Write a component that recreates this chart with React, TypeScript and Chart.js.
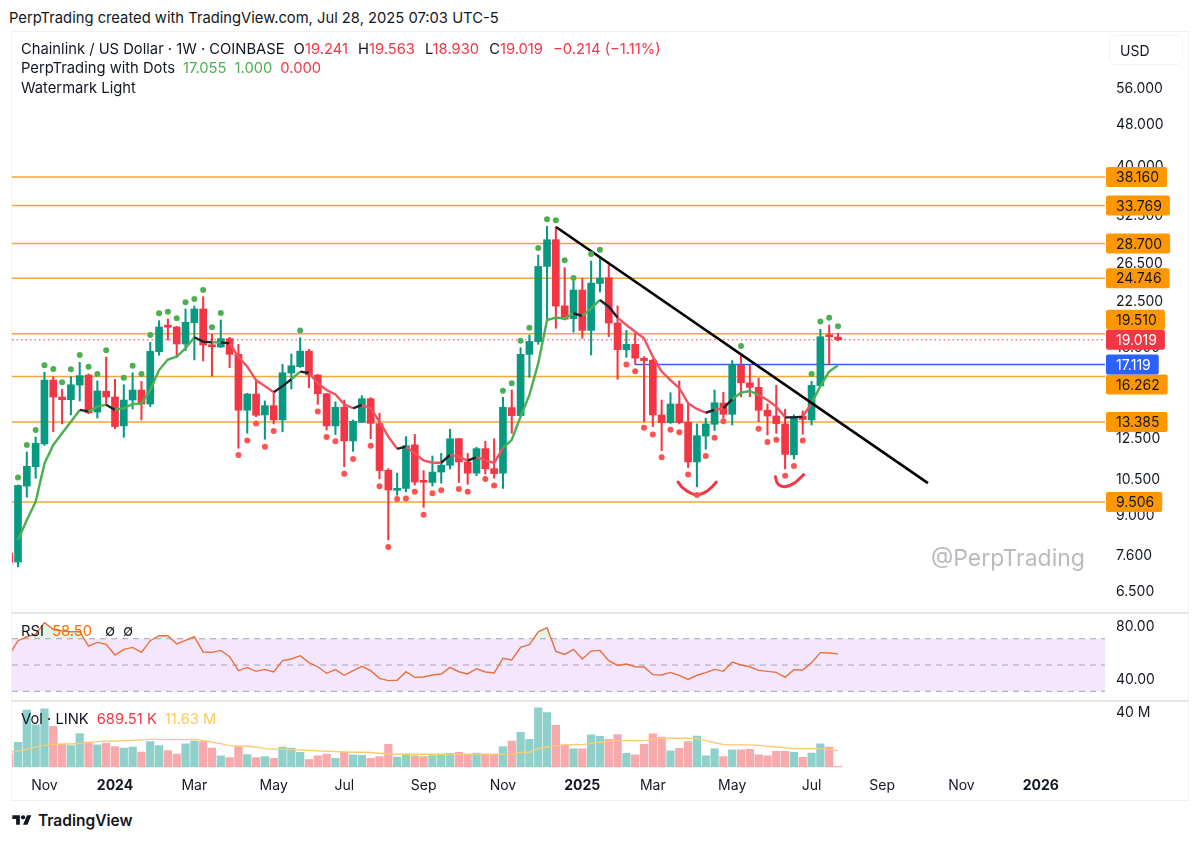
import { useEffect, useRef } from "react";
import { Chart, registerables } from "chart.js";

Chart.register(...registerables);
Chart.defaults.font.family = "Inter, sans-serif";
Chart.defaults.font.size = 14;
Chart.defaults.color = "#131722";

const UP = "#089981";
const DOWN = "#F23645";

// weekly candles, first entry is the bar cut off by the left edge
const opens = [
  7.64, 7.35, 10.17, 11.05, 12.18, 16.01, 14.89, 14.72, 15.67, 16.36,
  13.96, 15.26, 14.89, 13.16, 14.70, 15.34, 14.45, 18.07, 20.15, 20.09,
  18.68, 20.47, 21.70, 18.62, 18.44, 19.11, 17.87, 14.07, 15.08, 13.79,
  14.35, 13.50, 16.50, 16.95, 18.12, 16.36, 15.10, 13.16, 14.25, 12.34,
  13.37, 14.78, 13.29, 10.89, 9.99, 10.07, 12.13, 10.39, 10.33, 10.80,
  11.12, 12.46, 11.28, 10.75, 11.94, 10.96, 10.75, 14.23, 13.75, 17.87,
  18.87, 26.03, 29.18, 21.99, 20.82, 23.53, 19.80, 24.20, 24.80, 20.43,
  18.23, 18.65, 17.58, 17.43, 13.79, 13.34, 14.45, 13.37, 11.28, 12.60,
  13.25, 14.51, 13.83, 17.06, 15.82, 15.52, 14.07, 13.73, 13.27, 11.63,
  13.71, 13.50, 15.62, 19.35, 19.241,
];
const highs = [
  7.75, 10.22, 11.77, 12.55, 16.55, 16.24, 15.39, 16.24, 17.27, 16.43,
  15.95, 17.67, 16.06, 15.69, 16.52, 15.92, 18.81, 20.64, 20.79, 20.15,
  21.70, 21.97, 22.87, 19.47, 20.70, 19.22, 18.65, 15.13, 16.06, 14.64,
  15.13, 17.12, 17.90, 19.19, 18.26, 16.40, 15.13, 14.58, 14.70, 13.50,
  14.97, 14.85, 13.89, 10.96, 10.75, 12.57, 12.69, 10.87, 11.57, 11.70,
  12.97, 12.48, 11.70, 12.01, 12.32, 12.45, 14.87, 15.34, 18.38, 19.41,
  27.33, 30.90, 30.85, 25.89, 24.42, 24.74, 26.64, 27.13, 26.19, 21.99,
  19.80, 19.55, 17.69, 17.50, 14.70, 15.17, 15.95, 14.45, 13.27, 13.60,
  15.34, 15.19, 17.40, 17.82, 17.06, 16.15, 14.45, 15.65, 14.13, 13.79,
  14.03, 15.92, 19.89, 20.26, 19.563,
];
const lows = [
  7.2, 7.20, 9.70, 10.52, 12.11, 12.83, 13.27, 13.79, 14.64, 13.86,
  13.61, 14.39, 13.0, 12.53, 14.15, 13.50, 14.29, 17.80, 19.0, 17.62,
  18.15, 17.45, 17.37, 16.29, 18.40, 16.88, 11.96, 12.75, 13.69, 12.43,
  13.27, 12.83, 15.41, 16.90, 15.49, 14.43, 12.93, 12.68, 11.05, 11.80,
  13.35, 12.46, 10.49, 8.08, 9.78, 9.93, 10.22, 9.29, 10.17, 10.30,
  10.94, 10.33, 10.25, 10.63, 10.71, 10.52, 10.07, 12.75, 13.70, 16.20,
  18.65, 20.64, 19.98, 20.70, 19.64, 19.14, 17.82, 23.33, 19.28, 16.06,
  17.65, 17.12, 13.40, 13.12, 11.84, 13.30, 13.27, 11.01, 10.14, 11.91,
  12.90, 13.60, 13.21, 14.91, 14.91, 13.40, 12.66, 12.75, 10.95, 11.42,
  12.70, 13.21, 15.56, 17.12, 18.93,
];
const closes = [
  7.35, 10.20, 11.07, 12.22, 16.01, 14.89, 14.72, 15.69, 16.31, 13.92,
  15.28, 14.89, 13.12, 14.70, 15.34, 14.45, 18.10, 20.09, 20.07, 18.68,
  20.50, 21.70, 18.60, 18.46, 19.11, 17.87, 14.07, 15.08, 13.77, 14.35,
  13.50, 16.52, 17.02, 18.12, 16.36, 15.10, 13.16, 14.25, 12.34, 13.42,
  14.78, 13.30, 10.87, 10.00, 10.07, 12.09, 10.35, 10.34, 10.80, 11.12,
  12.45, 11.28, 10.75, 11.94, 10.95, 10.73, 14.25, 13.75, 17.87, 18.88,
  26.03, 29.18, 21.97, 20.77, 23.53, 19.80, 24.24, 24.76, 20.43, 18.23,
  18.65, 17.58, 17.40, 13.79, 13.34, 14.45, 13.34, 11.28, 12.62, 13.27,
  14.53, 13.83, 17.12, 15.82, 15.52, 14.07, 13.73, 13.29, 11.65, 13.71,
  13.52, 15.65, 19.27, 19.27, 19.019,
];

// PerpTrading line, starts on the second candle
const trendValues = [
  8.08, 8.80, 9.51, 11.21, 12.13, 12.75, 13.40, 14.09, 14.0, 14.29,
  14.41, 14.09, 14.19, 14.45, 14.47, 15.34, 16.71, 17.48, 17.69, 18.34,
  19.23, 18.87, 18.81, 18.81, 18.73, 17.69, 16.95, 16.01, 15.60, 15.19,
  15.60, 16.06, 16.60, 16.50, 15.79, 15.34, 15.06, 14.43, 14.19, 14.39,
  14.19, 13.40, 12.57, 11.93, 12.04, 11.70, 11.35, 11.24, 11.24, 11.62,
  11.54, 11.34, 11.51, 11.37, 11.23, 11.96, 12.40, 13.69, 15.02, 17.19,
  20.70, 20.91, 20.86, 21.30, 21.06, 21.76, 22.55, 21.91, 20.91, 20.26,
  19.69, 19.14, 17.69, 16.60, 16.01, 15.46, 14.50, 14.15, 13.92, 14.09,
  14.19, 14.75, 15.17, 15.28, 15.02, 14.70, 14.29, 13.65, 13.65, 13.69,
  14.50, 15.60, 16.60, 17.055,
];
const trendStates = (
  "ggggggg" + "k" + "gg" + "k" + "ggggggggg" + "kk" + "g" + "k" + "rrrrr" + "kk" + "g" + "k" +
  "rrrrr" + "k" + "rrrr" + "k" + "rrrr" + "k" + "rr" + "k" + "rrr" + "gggggggg" + "k" + "gg" +
  "kk" + "rrrrrrrrrr" + "k" + "r" + "k" + "ggg" + "rrr" + "kk" + "r" + "gggg"
).split("");
const trendColors: Record<string, string> = { g: "#4CAF50", r: "#F0525F", k: "#1E222D" };

// [week index, price]
const greenDots: [number, number][] = [
  [0, 10.55], [1, 12.13], [2, 12.93], [3, 17.06], [4, 16.79], [5, 15.86], [6, 16.77], [7, 17.82],
  [8, 16.95], [9, 16.43], [10, 18.18], [12, 16.17], [13, 17.02], [14, 16.43], [15, 19.41],
  [16, 21.30], [17, 21.45], [18, 20.86], [19, 22.33], [20, 22.65], [21, 23.53], [22, 20.06],
  [23, 21.33], [32, 19.80], [55, 15.29], [56, 15.80], [57, 18.95], [58, 20.03], [59, 28.17],
  [60, 31.85], [61, 31.72], [62, 26.72], [63, 24.77], [65, 27.45], [66, 27.96], [82, 18.52],
  [90, 16.43], [91, 20.56], [92, 20.91], [93, 20.15],
];
const redDots: [number, number][] = [
  [25, 11.62], [26, 12.36], [27, 13.30], [28, 12.04], [29, 12.88], [34, 14.0], [35, 12.55],
  [36, 12.32], [37, 10.72], [38, 11.42], [40, 12.09], [41, 10.17], [42, 7.84], [43, 9.63],
  [44, 9.65], [45, 9.93], [46, 9.0], [47, 9.87], [48, 9.99], [50, 10.05], [51, 9.93],
  [53, 10.48], [54, 10.20], [69, 17.12], [70, 16.62], [71, 13.05], [72, 12.69], [73, 11.51],
  [74, 12.95], [75, 12.81], [76, 10.69], [77, 9.79], [78, 11.57], [79, 12.51], [80, 13.42],
  [84, 13.0], [85, 12.28], [86, 12.40], [87, 10.63], [88, 11.09], [89, 12.36],
];

// hand drawn smiles under the two lows
const smileLeft: [number, number][] = [
  [74.86, 10.35], [75.4, 10.09], [76.2, 9.89], [77, 9.79], [77.9, 9.90], [78.6, 10.10], [79.2, 10.35],
];
const smileRight: [number, number][] = [
  [85.9, 10.59], [86.1, 10.32], [86.5, 10.18], [87.1, 10.15], [88, 10.29], [88.6, 10.49], [89.1, 10.68],
];

const orangeLevels = [38.16, 33.769, 28.7, 24.746, 19.51, 16.262, 13.385, 9.506];
const lastPrice = 19.019;
const bluePrice = 17.119;
const blueStart = 70;
const falling: [number, number][] = [[61.02, 30.81], [103.2, 10.3]];

const priceTicks = [56, 48, 40, 32.5, 26.5, 22.5, 18.5, 15.5, 12.5, 10.5, 9, 7.6, 6.5];

const rsiValues = [
  57.6, 68.5, 71.5, 73.5, 82.2, 77.1, 76.1, 75.3, 75.3, 64.4,
  67.2, 65.7, 57.6, 61.9, 63.4, 59.6, 68.5, 72.3, 72.3, 66.0,
  68.7, 71.5, 59.9, 59.6, 61.1, 56.3, 45.7, 48.2, 45.2, 46.7,
  44.7, 53.3, 54.6, 57.1, 51.8, 48.7, 43.7, 46.5, 42.2, 45.7,
  49.0, 45.7, 39.9, 38.1, 38.4, 44.9, 40.6, 40.9, 42.4, 43.2,
  48.2, 44.9, 43.2, 47.2, 44.7, 43.9, 55.1, 53.8, 63.4, 65.4,
  75.3, 78.4, 60.4, 58.1, 61.9, 54.6, 60.6, 61.1, 53.3, 49.7,
  50.8, 48.7, 48.5, 42.7, 42.4, 44.4, 42.2, 39.1, 42.2, 44.2,
  46.7, 45.2, 52.3, 50.0, 48.7, 45.9, 45.2, 44.4, 40.6, 46.5,
  46.2, 51.8, 59.4, 59.1, 58.5,
];
const rsiLevels = [70, 50, 30];

// millions
const volumes = [
  9.6, 18, 41.2, 30.5, 42, 29.5, 16.5, 15.6, 24.2, 18.2,
  16.1, 17.3, 14.9, 13.9, 14.6, 11, 18.5, 15.6, 12, 9.6,
  16.8, 18.9, 18.5, 13.9, 8.2, 7, 14.9, 9.1, 7, 7.7,
  6.5, 14.6, 13.9, 10.8, 5.5, 8.2, 9.6, 6.5, 11, 8.9,
  8.6, 6.5, 7.7, 16.5, 7.4, 9.6, 8.2, 7.7, 8.4, 9.4,
  10.1, 10.8, 9.4, 10.3, 9.4, 8.6, 14.9, 18.9, 25.2, 20.1,
  42.7, 39.3, 30.2, 16.1, 13.2, 13.2, 23.3, 22.3, 20.1, 23.5,
  10.1, 8.9, 16.5, 24, 21.8, 11.8, 13.7, 18.5, 22.5, 8.2,
  13.2, 7.7, 12.5, 12.5, 12.9, 8.9, 8.2, 11.5, 11.5, 10.8,
  7.2, 10.3, 16.8, 14.6, 0.69,
];
const volumeAverage = [
  10.6, 11.8, 12.9, 14.6, 15.8, 16.5, 16.8, 16.8, 17.3, 17.7,
  18.5, 18.7, 18.9, 19.2, 19.4, 19.7, 20.1, 20.1, 19.9, 19.9,
  19.9, 20.1, 19.4, 18, 17, 15.6, 15.3, 15.1, 14.6, 13.4,
  13.2, 12.9, 12.7, 12.5, 12.2, 11.8, 11.5, 11.3, 11, 10.8,
  10.8, 10.6, 10.1, 9.6, 9.4, 9.4, 9.4, 9.4, 9.4, 9.4,
  9.4, 9.4, 9.4, 9.4, 9.4, 9.4, 9.4, 9.6, 10.6, 10.8,
  13.4, 14.6, 15.6, 16.1, 16.3, 16.3, 17.3, 18, 18.7, 19.2,
  19.2, 19.2, 19.2, 19.9, 20.9, 20.9, 20.9, 20.9, 20.6, 19.2,
  17.7, 16.5, 16.1, 16.1, 16.1, 15.8, 15.1, 14.6, 14.1, 13.4,
  13.4, 13.4, 13.4, 12.9, 12,
];

const monthTicks = [3, 11, 20, 29, 37, 46, 55, 64, 72, 81, 90, 98, 107, 116];
const monthLabels = ["Nov", "2024", "Mar", "May", "Jul", "Sep", "Nov", "2025", "Mar", "May", "Jul", "Sep", "Nov", "2026"];

const xMin = -0.6805;
const xMax = 123.28;

const weeks = opens.map((_, i) => i - 1);
const isUp = (i: number) => closes[i] >= opens[i];
const pairs = (list: [number, number][]) => list.map(([x, y]) => ({ x, y }));
const flat = (y: number, from = xMin) => [{ x: from, y }, { x: xMax, y }];
const series = (values: number[], first: number) => values.map((y, i) => ({ x: i + first, y }));

const xHidden = {
  type: "linear",
  display: false,
  offset: false,
  bounds: "data",
  min: xMin,
  max: xMax,
  grid: { display: false, offset: false },
};

const rightAxis = (extra: any) => ({
  position: "right",
  bounds: "data",
  beginAtZero: false,
  grid: { display: false, drawTicks: false },
  border: { display: false },
  afterFit: (s: any) => {
    s.width = 83;
    // labels may hang over the pane edge like in the terminal
    s.paddingTop = 0;
    s.paddingBottom = 0;
  },
  ...extra,
  ticks: { padding: 11, autoSkip: false, color: "#131722", labelOffset: 1.3, ...extra.ticks },
});

const baseOptions = {
  animation: false,
  responsive: false,
  events: [],
  layout: { autoPadding: false, padding: 0 },
  plugins: { legend: { display: false }, tooltip: { enabled: false } },
};

const priceTags = {
  id: "priceTags",
  afterDraw(chart: any) {
    const s = chart.scales.y;
    const ctx = chart.ctx;
    const left = s.left + 1;
    const h = 20;
    const pinned = [lastPrice, bluePrice].map((p) => s.getPixelForValue(p));
    const tag = (price: number, y: number, bg: string, fg: string) => {
      const label = price.toFixed(3);
      ctx.fillStyle = bg;
      ctx.beginPath();
      ctx.roundRect(left, y - h / 2, ctx.measureText(label).width + 18, h, 2);
      ctx.fill();
      ctx.fillStyle = fg;
      ctx.fillText(label, left + 10, y + 1);
    };
    ctx.save();
    ctx.font = "14px Inter, sans-serif";
    ctx.textBaseline = "middle";
    orangeLevels.forEach((p) => {
      let y = s.getPixelForValue(p);
      // tags slide away from the live price and the blue line tag
      pinned.forEach((q) => {
        if (Math.abs(y - q) < h) y = y < q ? q - h : q + h;
      });
      tag(p, y, "#FF9800", "#131722");
    });
    tag(bluePrice, pinned[1], "#2962FF", "#fff");
    tag(lastPrice, pinned[0], DOWN, "#fff");
    ctx.restore();
  },
};

function Row({ top, children }: { top: number; children: any }) {
  return (
    <div style={{ position: "absolute", left: 21, top, whiteSpace: "nowrap", lineHeight: "20px" }}>{children}</div>
  );
}

function Val({ c, ml = 8, children }: { c: string; ml?: number; children: any }) {
  return <span style={{ color: c, marginLeft: ml }}>{children}</span>;
}

export default function App() {
  const priceRef = useRef<HTMLCanvasElement>(null);
  const rsiRef = useRef<HTMLCanvasElement>(null);
  const volRef = useRef<HTMLCanvasElement>(null);

  useEffect(() => {
    if (!priceRef.current || !rsiRef.current || !volRef.current) return;

    const candleColors = weeks.map((_, i) => (isUp(i) ? UP : DOWN));
    const hline = (y: number, color: string, order: number, from?: number, dash?: number[], w = 1.5) => ({
      type: "line",
      data: flat(y, from),
      borderColor: color,
      borderWidth: w,
      borderDash: dash,
      pointRadius: 0,
      order,
    });
    const dots = (list: [number, number][], color: string) => ({
      type: "line",
      data: pairs(list),
      showLine: false,
      pointRadius: 3,
      pointBorderWidth: 0,
      pointBackgroundColor: color,
      order: 1,
    });
    const smile = (list: [number, number][]) => ({
      type: "line",
      data: pairs(list),
      borderColor: DOWN,
      borderWidth: 3,
      borderCapStyle: "round",
      tension: 0.4,
      pointRadius: 0,
      order: 1,
    });

    const price = new Chart(priceRef.current, {
      type: "bar",
      data: {
        datasets: [
          dots(greenDots, "#4CAF50"),
          dots(redDots, "#FF5252"),
          smile(smileLeft),
          smile(smileRight),
          {
            type: "line",
            data: pairs(falling),
            borderColor: "#000",
            borderWidth: 2.6,
            pointRadius: 0,
            order: 2,
          },
          {
            type: "line",
            data: series(trendValues, 0),
            borderWidth: 2.4,
            borderColor: "#4CAF50",
            pointRadius: 0,
            segment: { borderColor: (c: any) => trendColors[trendStates[c.p0DataIndex]] },
            order: 3,
          },
          {
            // candle bodies
            data: weeks.map((x, i) => ({ x, y: [opens[i], closes[i]] })),
            backgroundColor: candleColors,
            barThickness: 7,
            maxBarThickness: 7,
            minBarLength: 2,
            grouped: false,
            order: 4,
          },
          {
            // wicks
            data: weeks.map((x, i) => ({ x, y: [lows[i], highs[i]] })),
            backgroundColor: candleColors,
            barThickness: 1.4,
            maxBarThickness: 1.4,
            grouped: false,
            order: 5,
          },
          hline(lastPrice, DOWN, 6, undefined, [1.5, 3], 1),
          hline(bluePrice, "#2962FF", 6, blueStart),
          ...orangeLevels.map((p) => hline(p, "#F5A63A", 7)),
        ],
      },
      options: {
        ...baseOptions,
        scales: {
          x: xHidden,
          y: rightAxis({
            type: "logarithmic",
            min: 5.936,
            max: 70.65,
            afterBuildTicks: (s: any) => {
              s.ticks = priceTicks.map((value) => ({ value }));
            },
            ticks: { callback: (v: any) => Number(v).toFixed(3) },
          }),
        },
      },
      plugins: [priceTags],
    } as any);

    const rsi = new Chart(rsiRef.current, {
      type: "line",
      data: {
        datasets: [
          {
            data: series(rsiValues, -1),
            borderColor: "#E8703A",
            borderWidth: 1.4,
            pointRadius: 0,
            fill: { target: { value: 70 }, above: "rgba(76,175,80,0.15)", below: "rgba(0,0,0,0)" },
            order: 1,
          },
          ...rsiLevels.map((y) => ({
            data: flat(y),
            borderColor: "#A8A3B5",
            borderWidth: 1,
            borderDash: [6, 5],
            pointRadius: 0,
            order: 2,
          })),
          {
            data: flat(rsiLevels[0]),
            borderWidth: 0,
            pointRadius: 0,
            backgroundColor: "#F4E6FD",
            fill: { target: { value: rsiLevels[2] } },
            order: 3,
          },
        ],
      },
      options: {
        ...baseOptions,
        scales: {
          x: xHidden,
          y: rightAxis({
            type: "linear",
            min: 23.4,
            max: 88.8,
            afterBuildTicks: (s: any) => {
              s.ticks = [80, 40].map((value) => ({ value }));
            },
            ticks: { callback: (v: any) => Number(v).toFixed(2) },
          }),
        },
      },
    } as any);

    const vol = new Chart(volRef.current, {
      type: "bar",
      data: {
        datasets: [
          {
            type: "line",
            data: series(volumeAverage, -1),
            borderColor: "#FBCB72",
            borderWidth: 1.4,
            pointRadius: 0,
            order: 1,
          },
          {
            data: weeks.map((x, i) => ({ x, y: volumes[i] })),
            backgroundColor: weeks.map((_, i) => (isUp(i) ? "#8FD1CA" : "#F7A9AB")),
            barThickness: 7.6,
            maxBarThickness: 7.6,
            grouped: false,
            order: 2,
          },
        ],
      },
      options: {
        ...baseOptions,
        scales: {
          x: {
            ...xHidden,
            display: true,
            border: { display: false },
            afterFit: (s: any) => {
              s.height = 32.7;
              s.paddingLeft = 0;
              s.paddingRight = 0;
            },
            afterBuildTicks: (s: any) => {
              s.ticks = monthTicks.map((value) => ({ value }));
            },
            grid: { display: false, offset: false, drawTicks: false },
            ticks: {
              autoSkip: false,
              maxRotation: 0,
              padding: 10,
              color: "#131722",
              callback: (_: any, i: number) => monthLabels[i],
              font: (c: any) => ({ weight: /^\d/.test(monthLabels[c.index] ?? "") ? "bold" : "normal" }),
            },
          },
          y: rightAxis({
            type: "linear",
            min: 0,
            max: 46.98,
            afterBuildTicks: (s: any) => {
              s.ticks = [{ value: 40 }];
            },
            ticks: { callback: (v: any) => `${v} M` },
          }),
        },
      },
    } as any);

    return () => {
      price.destroy();
      rsi.destroy();
      vol.destroy();
    };
  }, []);

  const pane = { position: "absolute", left: 12 } as const;
  const rule = { position: "absolute", left: 12, width: 1176, height: 2, background: "#E6E8EE" } as const;

  return (
    <div
      style={{
        position: "absolute",
        left: 0,
        top: 0,
        width: 1200,
        height: 841,
        overflow: "hidden",
        background: "#fff",
        fontFamily: "Inter, sans-serif",
        fontSize: 14.75,
        color: "#131722",
      }}
    >
      <div style={{ position: "absolute", left: 9, top: 8, lineHeight: "20px", whiteSpace: "nowrap" }}>
        PerpTrading created with TradingView.com, Jul 28, 2025 07:03 UTC-5
      </div>
      <div style={{ position: "absolute", left: 11, top: 31, width: 1176, height: 768, border: "1px solid #EFF1F6" }} />

      <canvas ref={priceRef} width={1176} height={579} style={{ ...pane, top: 33 }} />
      <div style={{ ...rule, top: 612 }} />
      <canvas ref={rsiRef} width={1176} height={86} style={{ ...pane, top: 614 }} />
      <div style={{ ...rule, top: 700 }} />
      <canvas ref={volRef} width={1176} height={98} style={{ ...pane, top: 702 }} />

      <Row top={39}>
        Chainlink / US Dollar · 1W · COINBASE
        <span style={{ marginLeft: 9 }}>O</span><Val c={DOWN} ml={0}>19.241</Val>
        <span style={{ marginLeft: 10 }}>H</span><Val c={DOWN} ml={0}>19.563</Val>
        <span style={{ marginLeft: 10 }}>L</span><Val c={DOWN} ml={0}>18.930</Val>
        <span style={{ marginLeft: 10 }}>C</span><Val c={DOWN} ml={0}>19.019</Val>
        <Val c={DOWN} ml={10}>−0.214 (−1.11%)</Val>
      </Row>
      <Row top={58}>
        PerpTrading with Dots
        <Val c="#4CAF50">17.055</Val>
        <Val c="#4CAF50">1.000</Val>
        <Val c={DOWN}>0.000</Val>
      </Row>
      <Row top={78}>Watermark Light</Row>

      <div
        style={{
          position: "absolute",
          left: 1109,
          top: 35,
          width: 74,
          height: 30,
          lineHeight: "30px",
          border: "1px solid #F0F3FA",
          borderRadius: 6,
          boxSizing: "border-box",
          paddingLeft: 10,
          fontSize: 14,
        }}
      >
        USD
      </div>

      <div style={{ position: "absolute", left: 931, top: 543, fontSize: 23, lineHeight: "30px", color: "#B9BBBF" }}>
        @PerpTrading
      </div>

      <Row top={621}>
        RSI
        <Val c="#FF6D00">58.50</Val>
        <span style={{ marginLeft: 13 }}>∅</span>
        <span style={{ marginLeft: 8 }}>∅</span>
      </Row>
      <Row top={709}>
        Vol · LINK
        <Val c={DOWN}>689.51 K</Val>
        <Val c="#FBC95F">11.63 M</Val>
      </Row>

      <svg width="20" height="15" viewBox="0 0 36 28" style={{ position: "absolute", left: 12, top: 813 }}>
        <path d="M14 22H7V11H0V4h14v18zM28 22h-8l7.5-18h8L28 22z" fill="#131722" />
        <circle cx="20" cy="8" r="4" fill="#131722" />
      </svg>
      <div style={{ position: "absolute", left: 38, top: 811, fontSize: 15.5, fontWeight: 600, lineHeight: "20px" }}>
        TradingView
      </div>
    </div>
  );
}
